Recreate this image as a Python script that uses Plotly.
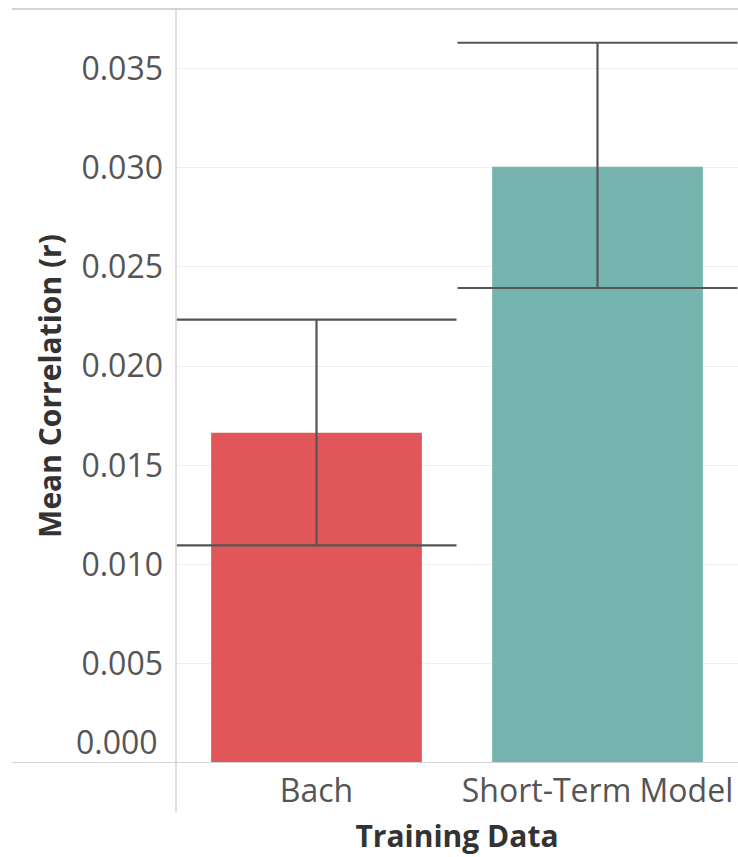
import plotly.graph_objects as go

# Mean correlation per training data source, with error bar bounds
categories = ["Bach", "Short-Term Model"]
mean_r = [0.01665, 0.03005]
err_upper = [0.02235, 0.03630]
err_lower = [0.01097, 0.02394]
bar_colors = ["#E15759", "#76B5AF"]
y_ticks = [0.000, 0.005, 0.010, 0.015, 0.020, 0.025, 0.030, 0.035]
y_range = [0, 0.038]

plus = [u - m for u, m in zip(err_upper, mean_r)]
minus = [m - l for m, l in zip(mean_r, err_lower)]

tick_font = dict(family="Open Sans", size=32, color="#555555")
title_font = dict(family="Open Sans", size=30, color="#333333")

fig = go.Figure()
fig.add_trace(go.Bar(
    x=categories,
    y=mean_r,
    marker=dict(color=bar_colors, line=dict(width=0)),
    width=0.75,
    error_y=dict(
        type="data", symmetric=False, array=plus, arrayminus=minus,
        color="#555555", thickness=2.2, width=140,
    ),
    showlegend=False,
))

fig.update_layout(
    width=738, height=857,
    margin=dict(l=176, r=0, t=9, b=94),
    plot_bgcolor="white", paper_bgcolor="white",
    bargap=0.25,
    xaxis=dict(
        showgrid=False, showline=False, zeroline=False,
        ticks="", tickfont=tick_font, ticklabelstandoff=6,
        title=dict(text="<b>Training Data</b>", font=title_font, standoff=15),
    ),
    yaxis=dict(
        range=y_range, tickvals=y_ticks,
        ticktext=["" if v == 0 else f"{v:.3f}" for v in y_ticks],
        showgrid=True, gridcolor="#EFEFEF", gridwidth=1,
        zeroline=False, showline=False, ticks="",
        tickfont=tick_font, ticklabelstandoff=12,
        title=dict(text="<b>Mean Correlation (r)</b>", font=title_font, standoff=10),
    ),
    annotations=[dict(
        x=0, xref="paper", y=y_ticks[0], yref="y",
        text=f"{y_ticks[0]:.3f}", showarrow=False,
        xanchor="right", yanchor="middle", xshift=-16, yshift=22,
        font=tick_font,
    )],
    shapes=[
        # top border
        dict(type="line", xref="paper", yref="paper", x0=-0.292, x1=1, y0=1, y1=1,
             line=dict(color="#D4D4D4", width=2)),
        # baseline
        dict(type="line", xref="paper", yref="y", x0=-0.292, x1=1, y0=0, y1=0,
             line=dict(color="#D4D4D4", width=2)),
        # vertical axis divider
        dict(type="line", xref="paper", yref="paper", x0=0, x1=0, y0=-0.066, y1=1,
             line=dict(color="#D4D4D4", width=1.5)),
    ],
)

fig.write_html("out.html")
